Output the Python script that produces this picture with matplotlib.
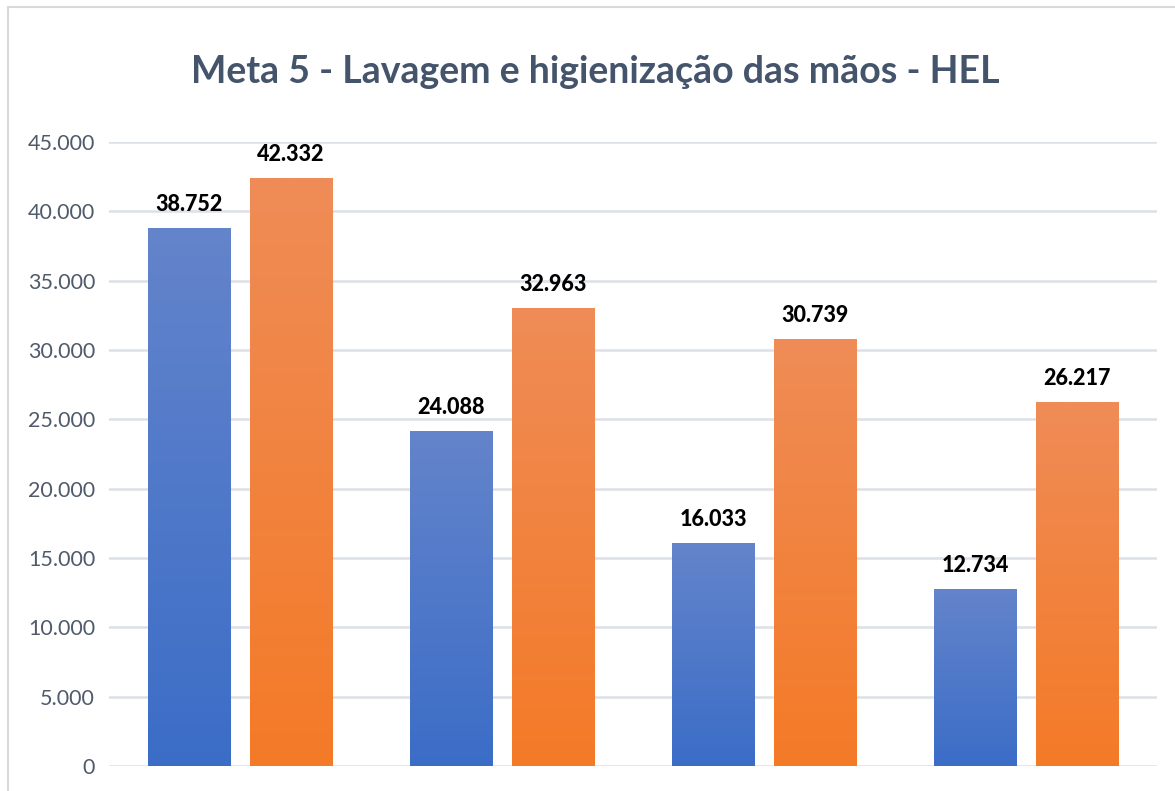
import numpy as np
import matplotlib
matplotlib.use("Agg")
import matplotlib.pyplot as plt
from matplotlib.colors import LinearSegmentedColormap
from matplotlib.patches import Rectangle
from matplotlib.ticker import FuncFormatter, MultipleLocator

categories = ["1", "2", "3", "4"]
series_a = [38752, 24088, 16033, 12734]
series_b = [42332, 32963, 30739, 26217]
title = "Meta 5 - Lavagem e higienização das mãos - HEL"

def fmt(v):
    return f"{v:,.0f}".replace(",", ".")

fig = plt.figure(figsize=(11.75, 7.91), dpi=100)
fig.patch.set_facecolor("white")
ax = fig.add_axes([109/1175, 1-766/791, (1157-109)/1175, (766-142)/791])

x = np.arange(len(categories))
w = 0.313
off = 0.193
bars_a = ax.bar(x - off, series_a, w, color="none", zorder=3)
bars_b = ax.bar(x + off, series_b, w, color="none", zorder=3)

cmap_a = LinearSegmentedColormap.from_list("a", ["#3B6DC7", "#6484CB"])
cmap_b = LinearSegmentedColormap.from_list("b", ["#F47A27", "#EF8C57"])
grad = np.linspace(0, 1, 256).reshape(-1, 1)
for bars, cmap in ((bars_a, cmap_a), (bars_b, cmap_b)):
    for b in bars:
        x0, w0, h0 = b.get_x(), b.get_width(), b.get_height()
        ax.imshow(grad, cmap=cmap, origin="lower", aspect="auto",
                  extent=(x0, x0 + w0, 0, h0), zorder=3, interpolation="bilinear")
        ax.annotate(fmt(h0), (x0 + w0/2, h0), xytext=(0, 10), textcoords="offset points",
                    ha="center", va="bottom", fontsize=15.5, fontweight="black",
                    family="Lato", color="black", zorder=4)

ax.set_xlim(-0.5, 3.5)
ax.set_ylim(0, 45000)
ax.yaxis.set_major_locator(MultipleLocator(5000))
ax.yaxis.set_major_formatter(FuncFormatter(lambda v, p: fmt(v)))
ax.grid(axis="y", color="#DCE1E7", linewidth=1.8, zorder=0)
ax.set_axisbelow(True)
for s in ax.spines.values():
    s.set_visible(False)
ax.tick_params(axis="y", length=0, pad=10, labelsize=15.5, labelcolor="#4F5A6B")
ax.tick_params(axis="x", length=0, labelbottom=False)
for lab in ax.get_yticklabels():
    lab.set_family("Lato")

fig.text(595/1175, 1-72/791, title, ha="center", va="center", fontsize=27,
         fontweight="bold", family="Lato", color="#44546A")

fig.add_artist(Rectangle((8/1175, -0.05), 1.2, 1-7/791 + 0.05, transform=fig.transFigure,
                         fill=False, edgecolor="#D9D9D9", linewidth=1.5))

fig.savefig("out.png", dpi=100, facecolor="white")
